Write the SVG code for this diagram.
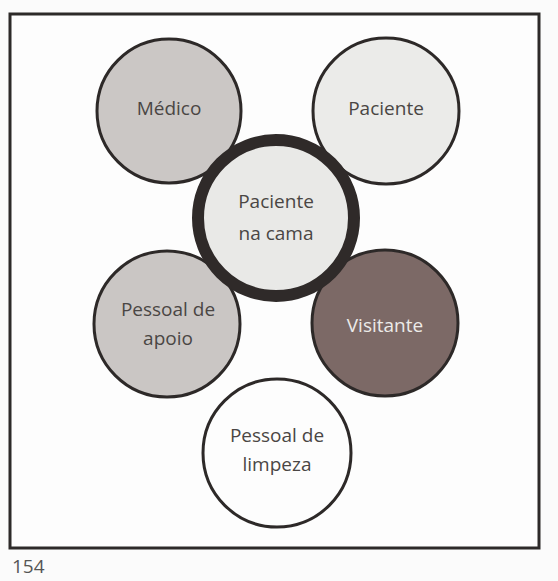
<svg xmlns="http://www.w3.org/2000/svg" width="558" height="581" viewBox="0 0 558 581">
<style>
.c{stroke:#2d2928;stroke-width:3}
.t{font-family:"Open Sans","Liberation Sans",sans-serif;font-size:19px;fill:#4a4644;text-anchor:middle}
.w{fill:#ecebe9}
</style>
<rect width="558" height="581" fill="#fbfbfb"/>
<rect x="10" y="14" width="529" height="534" fill="#fdfdfd" stroke="#2d2a29" stroke-width="3"/>
<g id="medico">
<circle class="c" cx="169" cy="111" r="72" fill="#cbc7c5"/>
<text class="t" x="169" y="115">Médico</text>
</g>
<g id="paciente">
<circle class="c" cx="386" cy="111" r="73" fill="#ebebe9"/>
<text class="t" x="386" y="115">Paciente</text>
</g>
<g id="pessoal-apoio">
<circle class="c" cx="167" cy="324" r="73" fill="#cac6c4"/>
<text class="t" x="168" y="316">Pessoal de</text>
<text class="t" x="168" y="345">apoio</text>
</g>
<g id="visitante">
<circle class="c" cx="385" cy="323" r="73" fill="#7c6966"/>
<text class="t w" x="385" y="332">Visitante</text>
</g>
<g id="pessoal-limpeza">
<circle class="c" cx="277" cy="453" r="74" fill="#fdfdfd"/>
<text class="t" x="277" y="442">Pessoal de</text>
<text class="t" x="277" y="471">limpeza</text>
</g>
<g id="paciente-cama">
<circle cx="276" cy="218" r="78" fill="#e9e9e7" stroke="#2f2a29" stroke-width="12"/>
<text class="t" x="276" y="208">Paciente</text>
<text class="t" x="276" y="240">na cama</text>
</g>
<text x="12" y="573" font-family="'Open Sans','Liberation Sans',sans-serif" font-size="19" fill="#555">154</text>
</svg>
